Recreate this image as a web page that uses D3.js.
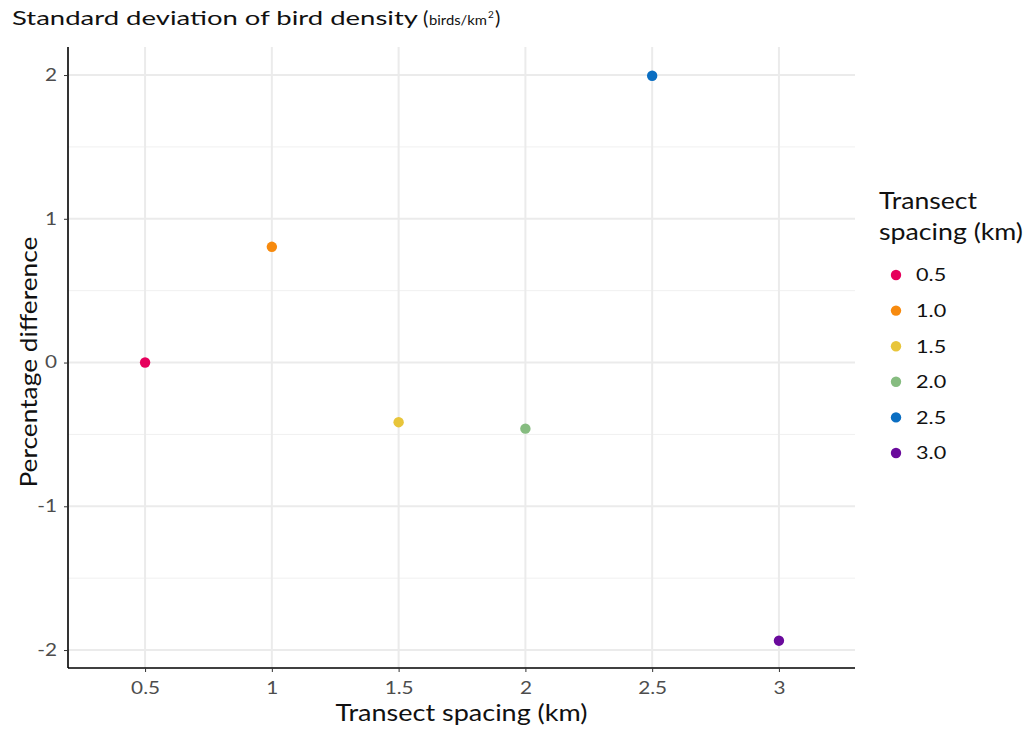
<!DOCTYPE html>
<html><head><meta charset="utf-8">
<script src="https://cdn.jsdelivr.net/npm/d3@7"></script>
<style>
html,body{margin:0;padding:0;background:#fff;}
svg{display:block;font-family:Lato,"Open Sans",sans-serif;}
</style></head>
<body>
<svg id="chart" width="1032" height="729"></svg>
<script>
const spacing = [0.5, 1.0, 1.5, 2.0, 2.5, 3.0];
const pctDiff = [0.0, 0.805, -0.415, -0.46, 1.995, -1.935];
const legendLabels = ["0.5", "1.0", "1.5", "2.0", "2.5", "3.0"];
const colors = ["#e6005c", "#f78a0e", "#e8c53a", "#86bc80", "#0a6ec2", "#6a0a9c"];
const xTicks = [0.5, 1, 1.5, 2, 2.5, 3];
const xTickLabels = ["0.5", "1", "1.5", "2", "2.5", "3"];
const yTicks = [-2, -1, 0, 1, 2];
const yMinor = [-1.5, -0.5, 0.5, 1.5];

const svg = d3.select("#chart");
const L = 68, R = 855, T = 47, B = 668;
const x = d3.scaleLinear().domain([0.196, 3.30]).range([L, R]);
const y = d3.scaleLinear().domain([-2.125, 2.195]).range([B, T]);

function stretch(sel, f) {
  sel.each(function () {
    const w = this.getComputedTextLength();
    d3.select(this).attr("textLength", w * f).attr("lengthAdjust", "spacingAndGlyphs");
  });
}

const g = svg.append("g");
g.selectAll(".ymin").data(yMinor).join("line")
  .attr("x1", L).attr("x2", R).attr("y1", d => y(d)).attr("y2", d => y(d))
  .attr("stroke", "#f0f0f0").attr("stroke-width", 1);
g.selectAll(".ymaj").data(yTicks).join("line")
  .attr("x1", L).attr("x2", R).attr("y1", d => y(d)).attr("y2", d => y(d))
  .attr("stroke", "#ebebeb").attr("stroke-width", 2);
g.selectAll(".xmaj").data(xTicks).join("line")
  .attr("y1", T).attr("y2", B).attr("x1", d => x(d)).attr("x2", d => x(d))
  .attr("stroke", "#ebebeb").attr("stroke-width", 2);

const xAxis = d3.axisBottom(x).tickValues(xTicks).tickFormat((d, i) => xTickLabels[i]).tickSize(4).tickPadding(10);
const yAxis = d3.axisLeft(y).tickValues(yTicks).tickFormat(d => d).tickSize(4).tickPadding(7);
const gx = svg.append("g").attr("transform", `translate(0,${B})`).call(xAxis);
const gy = svg.append("g").attr("transform", `translate(${L},0)`).call(yAxis);
[gx, gy].forEach(a => {
  a.select(".domain").attr("stroke", "#000").attr("stroke-width", 1.6);
  a.selectAll(".tick line").attr("stroke", "#333");
  a.selectAll(".tick text").attr("fill", "#4d4d4d").style("font-size", "17px").style("font-family", "Lato, sans-serif");
  stretch(a.selectAll(".tick text"), 1.22);
});
gx.select(".domain").attr("d", `M${L},0H${R}`);
gy.select(".domain").attr("d", `M0,${T}V${B}`);

svg.append("g").selectAll("circle").data(spacing).join("circle")
  .attr("cx", d => x(d)).attr("cy", (d, i) => y(pctDiff[i])).attr("r", 5.2)
  .attr("fill", (d, i) => colors[i]);

// title
svg.append("text").attr("x", 12).attr("y", 25).attr("fill", "#111").style("font-size", "20px")
  .attr("textLength", 406).attr("lengthAdjust", "spacingAndGlyphs")
  .text("Standard deviation of bird density");
svg.append("text").attr("x", 423).attr("y", 25).attr("fill", "#111").style("font-size", "20px").text("(");
svg.append("text").attr("x", 429).attr("y", 25).attr("fill", "#111").style("font-size", "14px")
  .attr("textLength", 58).attr("lengthAdjust", "spacingAndGlyphs").text("birds/km");
svg.append("text").attr("x", 488).attr("y", 18).attr("fill", "#111").style("font-size", "10px").text("2");
svg.append("text").attr("x", 495).attr("y", 25).attr("fill", "#111").style("font-size", "20px").text(")");

svg.append("text").attr("x", (L + R) / 2).attr("y", 721).attr("text-anchor", "middle")
  .style("font-size", "24px").attr("fill", "#111")
  .attr("textLength", 252).attr("lengthAdjust", "spacingAndGlyphs").text("Transect spacing (km)");
svg.append("text").attr("transform", `translate(37,362) rotate(-90)`).attr("text-anchor", "middle")
  .style("font-size", "24px").attr("fill", "#111")
  .attr("textLength", 251).attr("lengthAdjust", "spacingAndGlyphs").text("Percentage difference");

// legend
const lg = svg.append("g");
lg.append("text").attr("x", 879).attr("y", 209).style("font-size", "23px").attr("fill", "#111")
  .attr("textLength", 98).attr("lengthAdjust", "spacingAndGlyphs").text("Transect");
lg.append("text").attr("x", 879).attr("y", 240).style("font-size", "23px").attr("fill", "#111")
  .attr("textLength", 144).attr("lengthAdjust", "spacingAndGlyphs").text("spacing (km)");
const ly = d3.scalePoint().domain(legendLabels).range([275, 453]);
lg.selectAll("circle").data(legendLabels).join("circle")
  .attr("cx", 896).attr("cy", d => ly(d)).attr("r", 5.2).attr("fill", (d, i) => colors[i]);
const lt = lg.selectAll(".lt").data(legendLabels).join("text")
  .attr("x", 916).attr("y", d => ly(d)).attr("dy", "0.36em")
  .style("font-size", "18px").attr("fill", "#111").text(d => d);
stretch(lt, 1.2);
</script>
</body></html>
